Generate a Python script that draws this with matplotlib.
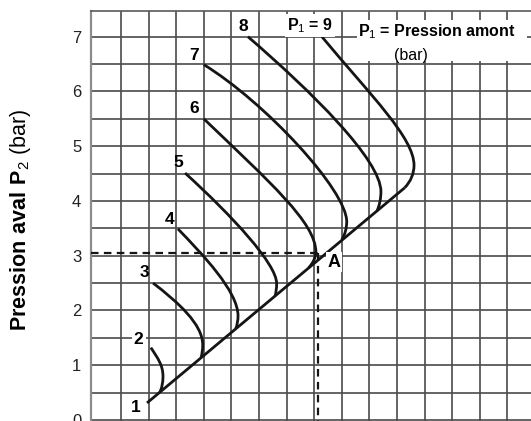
import numpy as np
import matplotlib
matplotlib.use('Agg')
import matplotlib.pyplot as plt
from matplotlib.path import Path
from matplotlib.patches import PathPatch, Rectangle

plt.rcParams['font.family'] = ['Liberation Sans', 'DejaVu Sans']
plt.rcParams['mathtext.fontset'] = 'custom'
plt.rcParams['mathtext.rm'] = 'Liberation Sans'
plt.rcParams['mathtext.bf'] = 'Liberation Sans:bold'

# upstream pressure P1 for each curve (bar)
p1_labels = ['2', '3', '4', '5', '6', '7', '8', '9']
# curve start (top left), bezier controls, nose (vertical tangent), hook control, end on the limit line
start_pts = [(1.04, 1.32), (1.08, 2.50), (1.53, 3.49), (1.66, 4.51),
             (2.00, 5.50), (2.00, 6.49), (2.80, 7.00), (4.14, 7.00)]
ctrl1_pts = [(1.17, 1.12), (1.53, 2.15), (1.98, 3.02), (2.51, 3.73),
             (3.20, 4.34), (3.10, 5.81), (3.95, 6.00), (5.05, 5.90)]
ctrl2_pts = [(1.26, 1.00), (1.98, 1.75), (2.62, 2.35), (3.32, 2.85),
             (4.03, 3.60), (4.59, 4.20), (5.21, 4.75), (5.81, 5.15)]
nose_pts = [(1.26, 0.79), (1.98, 1.37), (2.62, 1.90), (3.32, 2.49),
            (4.03, 3.07), (4.59, 3.62), (5.21, 4.17), (5.81, 4.65)]
hook_pts = [(1.26, 0.62), (1.98, 1.24), (2.62, 1.77), (3.32, 2.36),
            (4.03, 2.92), (4.59, 3.44), (5.21, 3.98), (5.81, 4.42)]
end_pts = [(1.20, 0.50), (1.95, 1.14), (2.58, 1.67), (3.29, 2.26),
           (3.90, 2.78), (4.50, 3.29), (5.14, 3.82), (5.64, 4.24)]

# limit line (P1 = 1 ... 9)
limit_x = [0.97, 5.64]
limit_y = [0.31, 4.24]

# point A read-off
a_x = 4.07
a_y = 3.05

# label positions for the P1 values
lab_x = [0.82, 0.93, 1.37, 1.53, 1.82, 1.82, 2.71]
lab_y = [1.46, 2.70, 3.67, 4.70, 5.68, 6.65, 7.18]

fig = plt.figure(figsize=(5.31, 4.21), dpi=100)
ax = fig.add_axes([91/531, 0, 440/531, 410/421])
ax.set_xlim(-0.045, 7.93)
ax.set_ylim(-0.02, 7.47)

ax.set_yticks(range(0, 8))
ax.set_yticks(np.arange(0.5, 7.5, 1), minor=True)
ax.set_xticks(np.arange(0.5, 8, 0.5))
ax.set_xticklabels([])
ax.tick_params(which='both', length=0, pad=7, labelsize=12, colors='#222222')
ax.grid(True, which='both', color='#4a4a4a', lw=1.2)
ax.set_axisbelow(True)

for s in ['right', 'bottom']:
    ax.spines[s].set_visible(False)
ax.spines['left'].set_color('#8c8c8c')
ax.spines['left'].set_linewidth(1.6)
ax.spines['top'].set_color('#5a5a5a')
ax.spines['top'].set_linewidth(1.2)

# P1 curves
codes = [Path.MOVETO, Path.CURVE4, Path.CURVE4, Path.CURVE4, Path.CURVE3, Path.CURVE3]
for i in range(len(p1_labels)):
    verts = [start_pts[i], ctrl1_pts[i], ctrl2_pts[i], nose_pts[i], hook_pts[i], end_pts[i]]
    patch = PathPatch(Path(verts, codes), fill=False, lw=2.0, edgecolor='#151515',
                      capstyle='butt', joinstyle='round', zorder=3)
    ax.add_patch(patch)

ax.plot(limit_x, limit_y, color='#151515', lw=2.0, solid_capstyle='butt', zorder=3)

# dashed read-off lines
ax.plot([ax.get_xlim()[0], a_x], [a_y, a_y], color='#151515', lw=1.6,
        linestyle=(0, (3.4, 2.4)), zorder=3)
ax.plot([a_x, a_x], [a_y, ax.get_ylim()[0]], color='#151515', lw=1.6,
        linestyle=(0, (3.4, 2.4)), zorder=3)

# labels
ax.text(0.77, 0.22, '1', fontsize=12.5, fontweight='bold', ha='center', va='center')
for i in range(len(lab_x)):
    bb = None
    if p1_labels[i] == '2':
        bb = dict(facecolor='white', edgecolor='none', pad=1.5)
    ax.text(lab_x[i], lab_y[i], p1_labels[i], fontsize=12.5, fontweight='bold',
            ha='center', va='center', bbox=bb, zorder=4)
ax.text(3.92, 7.20, 'P$_1$ = 9', fontsize=11.5, fontweight='bold', ha='center', va='center',
        bbox=dict(facecolor='white', edgecolor='none', pad=1.5), zorder=4)
ax.text(4.36, 2.88, 'A', fontsize=13, fontweight='bold', ha='center', va='center',
        bbox=dict(facecolor='white', edgecolor='none', pad=1.0), zorder=4)

ax.add_patch(Rectangle((4.77, 6.55), 3.08, 0.76, facecolor='white', edgecolor='none', zorder=2))
ax.text(6.22, 7.09, 'P$_1$ = Pression amont', fontsize=11.5, fontweight='bold',
        ha='center', va='center', zorder=4)
ax.text(5.75, 6.65, '(bar)', fontsize=11.5, ha='center', va='center', zorder=4)

ax.text(-0.161, 0.491, r'$\mathbf{Pression\ aval\ P}_{2}$ (bar)', transform=ax.transAxes,
        rotation=90, fontsize=15.5, ha='center', va='center')

fig.savefig('out.png', dpi=100)
